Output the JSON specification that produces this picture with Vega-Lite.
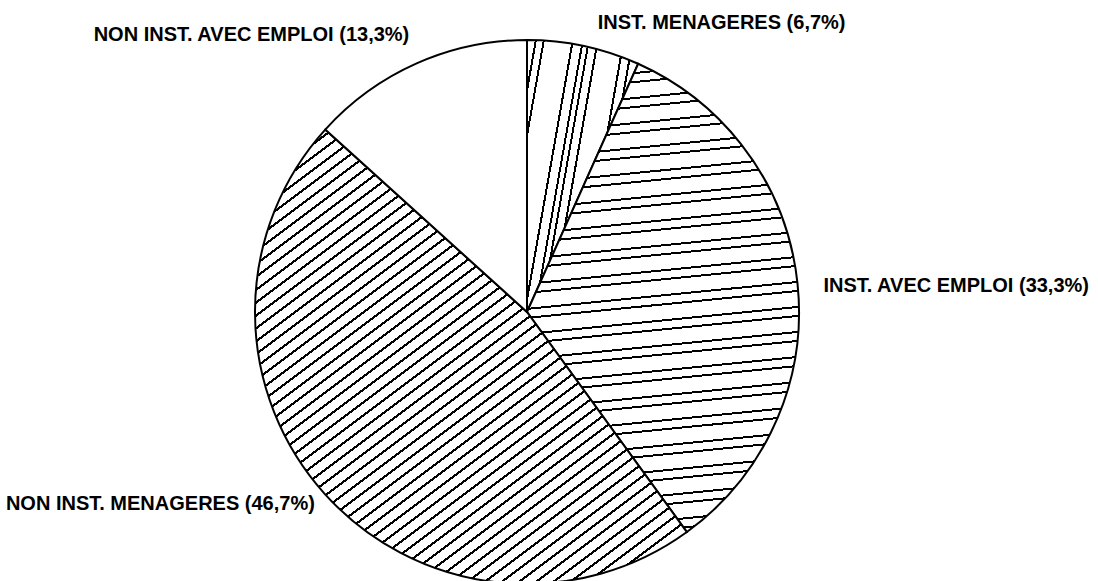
{
  "$schema": "https://vega.github.io/schema/vega-lite/v6.json",
  "width": 1054,
  "height": 624,
  "autosize": "none",
  "padding": {"left": 0, "top": 0, "right": 44, "bottom": 0},
  "background": "white",
  "config": {"view": {"stroke": null}},
  "data": {
    "values": [
      {"categorie": "INST. MENAGERES", "pct": 6.7, "ordre": 1, "label": "INST. MENAGERES (6,7%)"},
      {"categorie": "INST. AVEC EMPLOI", "pct": 33.3, "ordre": 2, "label": "INST. AVEC EMPLOI (33,3%)"},
      {"categorie": "NON INST. MENAGERES", "pct": 46.7, "ordre": 3, "label": "NON INST. MENAGERES (46,7%)"},
      {"categorie": "NON INST. AVEC EMPLOI", "pct": 13.3, "ordre": 4, "label": "NON INST. AVEC EMPLOI (13,3%)"}
    ]
  },
  "encoding": {
    "theta": {"field": "pct", "type": "quantitative", "stack": true},
    "order": {"field": "ordre", "type": "quantitative"},
    "detail": {"field": "categorie", "type": "nominal"}
  },
  "layer": [
    {
      "mark": {"type": "arc", "outerRadius": 272, "stroke": "black", "strokeWidth": 2},
      "encoding": {
        "fill": {
          "condition": [
            {"test": "datum.ordre === 1", "value": {"gradient": "linear", "x1": 0, "y1": 0, "x2": 1.2067, "y2": 0.5213, "stops": [
              {"offset": 0, "color": "white"},
              {"offset": 0.0494, "color": "white"}, {"offset": 0.0494, "color": "black"}, {"offset": 0.0622, "color": "black"}, {"offset": 0.0622, "color": "white"},
              {"offset": 0.0995, "color": "white"}, {"offset": 0.0995, "color": "black"}, {"offset": 0.1123, "color": "black"}, {"offset": 0.1123, "color": "white"},
              {"offset": 0.2816, "color": "white"}, {"offset": 0.2816, "color": "black"}, {"offset": 0.2944, "color": "black"}, {"offset": 0.2944, "color": "white"},
              {"offset": 0.3446, "color": "white"}, {"offset": 0.3446, "color": "black"}, {"offset": 0.3574, "color": "black"}, {"offset": 0.3574, "color": "white"},
              {"offset": 0.3826, "color": "white"}, {"offset": 0.3826, "color": "black"}, {"offset": 0.3954, "color": "black"}, {"offset": 0.3954, "color": "white"},
              {"offset": 0.4386, "color": "white"}, {"offset": 0.4386, "color": "black"}, {"offset": 0.4514, "color": "black"}, {"offset": 0.4514, "color": "white"},
              {"offset": 0.6016, "color": "white"}, {"offset": 0.6016, "color": "black"}, {"offset": 0.6144, "color": "black"}, {"offset": 0.6144, "color": "white"},
              {"offset": 0.6586, "color": "white"}, {"offset": 0.6586, "color": "black"}, {"offset": 0.6714, "color": "black"}, {"offset": 0.6714, "color": "white"},
              {"offset": 1, "color": "white"}
            ]}},
            {"test": "datum.ordre === 2", "value": {"gradient": "linear", "x1": 0, "y1": 0, "x2": 0.0618, "y2": 1.0649, "stops": [
              {"offset": 0, "color": "white"},
              {"offset": 0.006, "color": "white"}, {"offset": 0.006, "color": "black"}, {"offset": 0.010, "color": "black"}, {"offset": 0.010, "color": "white"},
              {"offset": 0.038, "color": "white"}, {"offset": 0.038, "color": "black"}, {"offset": 0.042, "color": "black"}, {"offset": 0.042, "color": "white"},
              {"offset": 0.056, "color": "white"}, {"offset": 0.056, "color": "black"}, {"offset": 0.060, "color": "black"}, {"offset": 0.060, "color": "white"},
              {"offset": 0.088, "color": "white"}, {"offset": 0.088, "color": "black"}, {"offset": 0.092, "color": "black"}, {"offset": 0.092, "color": "white"},
              {"offset": 0.106, "color": "white"}, {"offset": 0.106, "color": "black"}, {"offset": 0.110, "color": "black"}, {"offset": 0.110, "color": "white"},
              {"offset": 0.138, "color": "white"}, {"offset": 0.138, "color": "black"}, {"offset": 0.142, "color": "black"}, {"offset": 0.142, "color": "white"},
              {"offset": 0.156, "color": "white"}, {"offset": 0.156, "color": "black"}, {"offset": 0.160, "color": "black"}, {"offset": 0.160, "color": "white"},
              {"offset": 0.188, "color": "white"}, {"offset": 0.188, "color": "black"}, {"offset": 0.192, "color": "black"}, {"offset": 0.192, "color": "white"},
              {"offset": 0.206, "color": "white"}, {"offset": 0.206, "color": "black"}, {"offset": 0.210, "color": "black"}, {"offset": 0.210, "color": "white"},
              {"offset": 0.238, "color": "white"}, {"offset": 0.238, "color": "black"}, {"offset": 0.242, "color": "black"}, {"offset": 0.242, "color": "white"},
              {"offset": 0.256, "color": "white"}, {"offset": 0.256, "color": "black"}, {"offset": 0.260, "color": "black"}, {"offset": 0.260, "color": "white"},
              {"offset": 0.288, "color": "white"}, {"offset": 0.288, "color": "black"}, {"offset": 0.292, "color": "black"}, {"offset": 0.292, "color": "white"},
              {"offset": 0.306, "color": "white"}, {"offset": 0.306, "color": "black"}, {"offset": 0.310, "color": "black"}, {"offset": 0.310, "color": "white"},
              {"offset": 0.338, "color": "white"}, {"offset": 0.338, "color": "black"}, {"offset": 0.342, "color": "black"}, {"offset": 0.342, "color": "white"},
              {"offset": 0.356, "color": "white"}, {"offset": 0.356, "color": "black"}, {"offset": 0.360, "color": "black"}, {"offset": 0.360, "color": "white"},
              {"offset": 0.388, "color": "white"}, {"offset": 0.388, "color": "black"}, {"offset": 0.392, "color": "black"}, {"offset": 0.392, "color": "white"},
              {"offset": 0.406, "color": "white"}, {"offset": 0.406, "color": "black"}, {"offset": 0.410, "color": "black"}, {"offset": 0.410, "color": "white"},
              {"offset": 0.438, "color": "white"}, {"offset": 0.438, "color": "black"}, {"offset": 0.442, "color": "black"}, {"offset": 0.442, "color": "white"},
              {"offset": 0.456, "color": "white"}, {"offset": 0.456, "color": "black"}, {"offset": 0.460, "color": "black"}, {"offset": 0.460, "color": "white"},
              {"offset": 0.488, "color": "white"}, {"offset": 0.488, "color": "black"}, {"offset": 0.492, "color": "black"}, {"offset": 0.492, "color": "white"},
              {"offset": 0.506, "color": "white"}, {"offset": 0.506, "color": "black"}, {"offset": 0.510, "color": "black"}, {"offset": 0.510, "color": "white"},
              {"offset": 0.538, "color": "white"}, {"offset": 0.538, "color": "black"}, {"offset": 0.542, "color": "black"}, {"offset": 0.542, "color": "white"},
              {"offset": 0.556, "color": "white"}, {"offset": 0.556, "color": "black"}, {"offset": 0.560, "color": "black"}, {"offset": 0.560, "color": "white"},
              {"offset": 0.588, "color": "white"}, {"offset": 0.588, "color": "black"}, {"offset": 0.592, "color": "black"}, {"offset": 0.592, "color": "white"},
              {"offset": 0.606, "color": "white"}, {"offset": 0.606, "color": "black"}, {"offset": 0.610, "color": "black"}, {"offset": 0.610, "color": "white"},
              {"offset": 0.638, "color": "white"}, {"offset": 0.638, "color": "black"}, {"offset": 0.642, "color": "black"}, {"offset": 0.642, "color": "white"},
              {"offset": 0.656, "color": "white"}, {"offset": 0.656, "color": "black"}, {"offset": 0.660, "color": "black"}, {"offset": 0.660, "color": "white"},
              {"offset": 0.688, "color": "white"}, {"offset": 0.688, "color": "black"}, {"offset": 0.692, "color": "black"}, {"offset": 0.692, "color": "white"},
              {"offset": 0.706, "color": "white"}, {"offset": 0.706, "color": "black"}, {"offset": 0.710, "color": "black"}, {"offset": 0.710, "color": "white"},
              {"offset": 0.738, "color": "white"}, {"offset": 0.738, "color": "black"}, {"offset": 0.742, "color": "black"}, {"offset": 0.742, "color": "white"},
              {"offset": 0.756, "color": "white"}, {"offset": 0.756, "color": "black"}, {"offset": 0.760, "color": "black"}, {"offset": 0.760, "color": "white"},
              {"offset": 0.788, "color": "white"}, {"offset": 0.788, "color": "black"}, {"offset": 0.792, "color": "black"}, {"offset": 0.792, "color": "white"},
              {"offset": 0.806, "color": "white"}, {"offset": 0.806, "color": "black"}, {"offset": 0.810, "color": "black"}, {"offset": 0.810, "color": "white"},
              {"offset": 0.838, "color": "white"}, {"offset": 0.838, "color": "black"}, {"offset": 0.842, "color": "black"}, {"offset": 0.842, "color": "white"},
              {"offset": 0.856, "color": "white"}, {"offset": 0.856, "color": "black"}, {"offset": 0.860, "color": "black"}, {"offset": 0.860, "color": "white"},
              {"offset": 0.888, "color": "white"}, {"offset": 0.888, "color": "black"}, {"offset": 0.892, "color": "black"}, {"offset": 0.892, "color": "white"},
              {"offset": 0.906, "color": "white"}, {"offset": 0.906, "color": "black"}, {"offset": 0.910, "color": "black"}, {"offset": 0.910, "color": "white"},
              {"offset": 0.938, "color": "white"}, {"offset": 0.938, "color": "black"}, {"offset": 0.942, "color": "black"}, {"offset": 0.942, "color": "white"},
              {"offset": 0.956, "color": "white"}, {"offset": 0.956, "color": "black"}, {"offset": 0.960, "color": "black"}, {"offset": 0.960, "color": "white"},
              {"offset": 0.988, "color": "white"}, {"offset": 0.988, "color": "black"}, {"offset": 0.992, "color": "black"}, {"offset": 0.992, "color": "white"},
              {"offset": 1, "color": "white"}
            ]}},
            {"test": "datum.ordre === 3", "value": {"gradient": "linear", "x1": 0, "y1": 0, "x2": 0.837, "y2": 1.1742, "stops": [
              {"offset": 0, "color": "white"},
              {"offset": 0.0703, "color": "white"}, {"offset": 0.0703, "color": "black"}, {"offset": 0.0737, "color": "black"}, {"offset": 0.0737, "color": "white"},
              {"offset": 0.0863, "color": "white"}, {"offset": 0.0863, "color": "black"}, {"offset": 0.0897, "color": "black"}, {"offset": 0.0897, "color": "white"},
              {"offset": 0.1023, "color": "white"}, {"offset": 0.1023, "color": "black"}, {"offset": 0.1057, "color": "black"}, {"offset": 0.1057, "color": "white"},
              {"offset": 0.1183, "color": "white"}, {"offset": 0.1183, "color": "black"}, {"offset": 0.1217, "color": "black"}, {"offset": 0.1217, "color": "white"},
              {"offset": 0.1343, "color": "white"}, {"offset": 0.1343, "color": "black"}, {"offset": 0.1377, "color": "black"}, {"offset": 0.1377, "color": "white"},
              {"offset": 0.1503, "color": "white"}, {"offset": 0.1503, "color": "black"}, {"offset": 0.1537, "color": "black"}, {"offset": 0.1537, "color": "white"},
              {"offset": 0.1663, "color": "white"}, {"offset": 0.1663, "color": "black"}, {"offset": 0.1697, "color": "black"}, {"offset": 0.1697, "color": "white"},
              {"offset": 0.1823, "color": "white"}, {"offset": 0.1823, "color": "black"}, {"offset": 0.1857, "color": "black"}, {"offset": 0.1857, "color": "white"},
              {"offset": 0.1983, "color": "white"}, {"offset": 0.1983, "color": "black"}, {"offset": 0.2017, "color": "black"}, {"offset": 0.2017, "color": "white"},
              {"offset": 0.2143, "color": "white"}, {"offset": 0.2143, "color": "black"}, {"offset": 0.2177, "color": "black"}, {"offset": 0.2177, "color": "white"},
              {"offset": 0.2303, "color": "white"}, {"offset": 0.2303, "color": "black"}, {"offset": 0.2337, "color": "black"}, {"offset": 0.2337, "color": "white"},
              {"offset": 0.2463, "color": "white"}, {"offset": 0.2463, "color": "black"}, {"offset": 0.2497, "color": "black"}, {"offset": 0.2497, "color": "white"},
              {"offset": 0.2623, "color": "white"}, {"offset": 0.2623, "color": "black"}, {"offset": 0.2657, "color": "black"}, {"offset": 0.2657, "color": "white"},
              {"offset": 0.2783, "color": "white"}, {"offset": 0.2783, "color": "black"}, {"offset": 0.2817, "color": "black"}, {"offset": 0.2817, "color": "white"},
              {"offset": 0.2943, "color": "white"}, {"offset": 0.2943, "color": "black"}, {"offset": 0.2977, "color": "black"}, {"offset": 0.2977, "color": "white"},
              {"offset": 0.3103, "color": "white"}, {"offset": 0.3103, "color": "black"}, {"offset": 0.3137, "color": "black"}, {"offset": 0.3137, "color": "white"},
              {"offset": 0.3263, "color": "white"}, {"offset": 0.3263, "color": "black"}, {"offset": 0.3297, "color": "black"}, {"offset": 0.3297, "color": "white"},
              {"offset": 0.3423, "color": "white"}, {"offset": 0.3423, "color": "black"}, {"offset": 0.3457, "color": "black"}, {"offset": 0.3457, "color": "white"},
              {"offset": 0.3583, "color": "white"}, {"offset": 0.3583, "color": "black"}, {"offset": 0.3617, "color": "black"}, {"offset": 0.3617, "color": "white"},
              {"offset": 0.3743, "color": "white"}, {"offset": 0.3743, "color": "black"}, {"offset": 0.3777, "color": "black"}, {"offset": 0.3777, "color": "white"},
              {"offset": 0.3903, "color": "white"}, {"offset": 0.3903, "color": "black"}, {"offset": 0.3937, "color": "black"}, {"offset": 0.3937, "color": "white"},
              {"offset": 0.4063, "color": "white"}, {"offset": 0.4063, "color": "black"}, {"offset": 0.4097, "color": "black"}, {"offset": 0.4097, "color": "white"},
              {"offset": 0.4223, "color": "white"}, {"offset": 0.4223, "color": "black"}, {"offset": 0.4257, "color": "black"}, {"offset": 0.4257, "color": "white"},
              {"offset": 0.4383, "color": "white"}, {"offset": 0.4383, "color": "black"}, {"offset": 0.4417, "color": "black"}, {"offset": 0.4417, "color": "white"},
              {"offset": 0.4543, "color": "white"}, {"offset": 0.4543, "color": "black"}, {"offset": 0.4577, "color": "black"}, {"offset": 0.4577, "color": "white"},
              {"offset": 0.4703, "color": "white"}, {"offset": 0.4703, "color": "black"}, {"offset": 0.4737, "color": "black"}, {"offset": 0.4737, "color": "white"},
              {"offset": 0.4863, "color": "white"}, {"offset": 0.4863, "color": "black"}, {"offset": 0.4897, "color": "black"}, {"offset": 0.4897, "color": "white"},
              {"offset": 0.5023, "color": "white"}, {"offset": 0.5023, "color": "black"}, {"offset": 0.5057, "color": "black"}, {"offset": 0.5057, "color": "white"},
              {"offset": 0.5183, "color": "white"}, {"offset": 0.5183, "color": "black"}, {"offset": 0.5217, "color": "black"}, {"offset": 0.5217, "color": "white"},
              {"offset": 0.5343, "color": "white"}, {"offset": 0.5343, "color": "black"}, {"offset": 0.5377, "color": "black"}, {"offset": 0.5377, "color": "white"},
              {"offset": 0.5503, "color": "white"}, {"offset": 0.5503, "color": "black"}, {"offset": 0.5537, "color": "black"}, {"offset": 0.5537, "color": "white"},
              {"offset": 0.5663, "color": "white"}, {"offset": 0.5663, "color": "black"}, {"offset": 0.5697, "color": "black"}, {"offset": 0.5697, "color": "white"},
              {"offset": 0.5823, "color": "white"}, {"offset": 0.5823, "color": "black"}, {"offset": 0.5857, "color": "black"}, {"offset": 0.5857, "color": "white"},
              {"offset": 0.5983, "color": "white"}, {"offset": 0.5983, "color": "black"}, {"offset": 0.6017, "color": "black"}, {"offset": 0.6017, "color": "white"},
              {"offset": 0.6143, "color": "white"}, {"offset": 0.6143, "color": "black"}, {"offset": 0.6177, "color": "black"}, {"offset": 0.6177, "color": "white"},
              {"offset": 0.6303, "color": "white"}, {"offset": 0.6303, "color": "black"}, {"offset": 0.6337, "color": "black"}, {"offset": 0.6337, "color": "white"},
              {"offset": 0.6463, "color": "white"}, {"offset": 0.6463, "color": "black"}, {"offset": 0.6497, "color": "black"}, {"offset": 0.6497, "color": "white"},
              {"offset": 0.6623, "color": "white"}, {"offset": 0.6623, "color": "black"}, {"offset": 0.6657, "color": "black"}, {"offset": 0.6657, "color": "white"},
              {"offset": 0.6783, "color": "white"}, {"offset": 0.6783, "color": "black"}, {"offset": 0.6817, "color": "black"}, {"offset": 0.6817, "color": "white"},
              {"offset": 0.6943, "color": "white"}, {"offset": 0.6943, "color": "black"}, {"offset": 0.6977, "color": "black"}, {"offset": 0.6977, "color": "white"},
              {"offset": 0.7103, "color": "white"}, {"offset": 0.7103, "color": "black"}, {"offset": 0.7137, "color": "black"}, {"offset": 0.7137, "color": "white"},
              {"offset": 0.7263, "color": "white"}, {"offset": 0.7263, "color": "black"}, {"offset": 0.7297, "color": "black"}, {"offset": 0.7297, "color": "white"},
              {"offset": 0.7423, "color": "white"}, {"offset": 0.7423, "color": "black"}, {"offset": 0.7457, "color": "black"}, {"offset": 0.7457, "color": "white"},
              {"offset": 0.7583, "color": "white"}, {"offset": 0.7583, "color": "black"}, {"offset": 0.7617, "color": "black"}, {"offset": 0.7617, "color": "white"},
              {"offset": 0.7743, "color": "white"}, {"offset": 0.7743, "color": "black"}, {"offset": 0.7777, "color": "black"}, {"offset": 0.7777, "color": "white"},
              {"offset": 0.7903, "color": "white"}, {"offset": 0.7903, "color": "black"}, {"offset": 0.7937, "color": "black"}, {"offset": 0.7937, "color": "white"},
              {"offset": 0.8063, "color": "white"}, {"offset": 0.8063, "color": "black"}, {"offset": 0.8097, "color": "black"}, {"offset": 0.8097, "color": "white"},
              {"offset": 0.8223, "color": "white"}, {"offset": 0.8223, "color": "black"}, {"offset": 0.8257, "color": "black"}, {"offset": 0.8257, "color": "white"},
              {"offset": 0.8383, "color": "white"}, {"offset": 0.8383, "color": "black"}, {"offset": 0.8417, "color": "black"}, {"offset": 0.8417, "color": "white"},
              {"offset": 0.8543, "color": "white"}, {"offset": 0.8543, "color": "black"}, {"offset": 0.8577, "color": "black"}, {"offset": 0.8577, "color": "white"},
              {"offset": 0.8703, "color": "white"}, {"offset": 0.8703, "color": "black"}, {"offset": 0.8737, "color": "black"}, {"offset": 0.8737, "color": "white"},
              {"offset": 0.8863, "color": "white"}, {"offset": 0.8863, "color": "black"}, {"offset": 0.8897, "color": "black"}, {"offset": 0.8897, "color": "white"},
              {"offset": 0.9023, "color": "white"}, {"offset": 0.9023, "color": "black"}, {"offset": 0.9057, "color": "black"}, {"offset": 0.9057, "color": "white"},
              {"offset": 0.9183, "color": "white"}, {"offset": 0.9183, "color": "black"}, {"offset": 0.9217, "color": "black"}, {"offset": 0.9217, "color": "white"},
              {"offset": 1, "color": "white"}
            ]}}
          ],
          "value": "white"
        }
      }
    },
    {
      "mark": {"type": "text", "radius": 300, "align": "left", "baseline": "middle", "dx": 8, "dy": 4, "font": "Liberation Sans", "fontSize": 20, "fontWeight": "bold", "color": "black"},
      "encoding": {"text": {"condition": {"test": "datum.ordre === 1", "field": "label"}, "value": ""}}
    },
    {
      "mark": {"type": "text", "radius": 300, "align": "left", "baseline": "middle", "dx": -2, "dy": 5, "font": "Liberation Sans", "fontSize": 20, "fontWeight": "bold", "color": "black"},
      "encoding": {"text": {"condition": {"test": "datum.ordre === 2", "field": "label"}, "value": ""}}
    },
    {
      "mark": {"type": "text", "radius": 300, "align": "right", "baseline": "middle", "dx": 11, "dy": -9, "font": "Liberation Sans", "fontSize": 20, "fontWeight": "bold", "color": "black"},
      "encoding": {"text": {"condition": {"test": "datum.ordre === 3", "field": "label"}, "value": ""}}
    },
    {
      "mark": {"type": "text", "radius": 300, "align": "right", "baseline": "middle", "dx": 4, "dy": -3, "font": "Liberation Sans", "fontSize": 20, "fontWeight": "bold", "color": "black"},
      "encoding": {"text": {"condition": {"test": "datum.ordre === 4", "field": "label"}, "value": ""}}
    }
  ]
}
